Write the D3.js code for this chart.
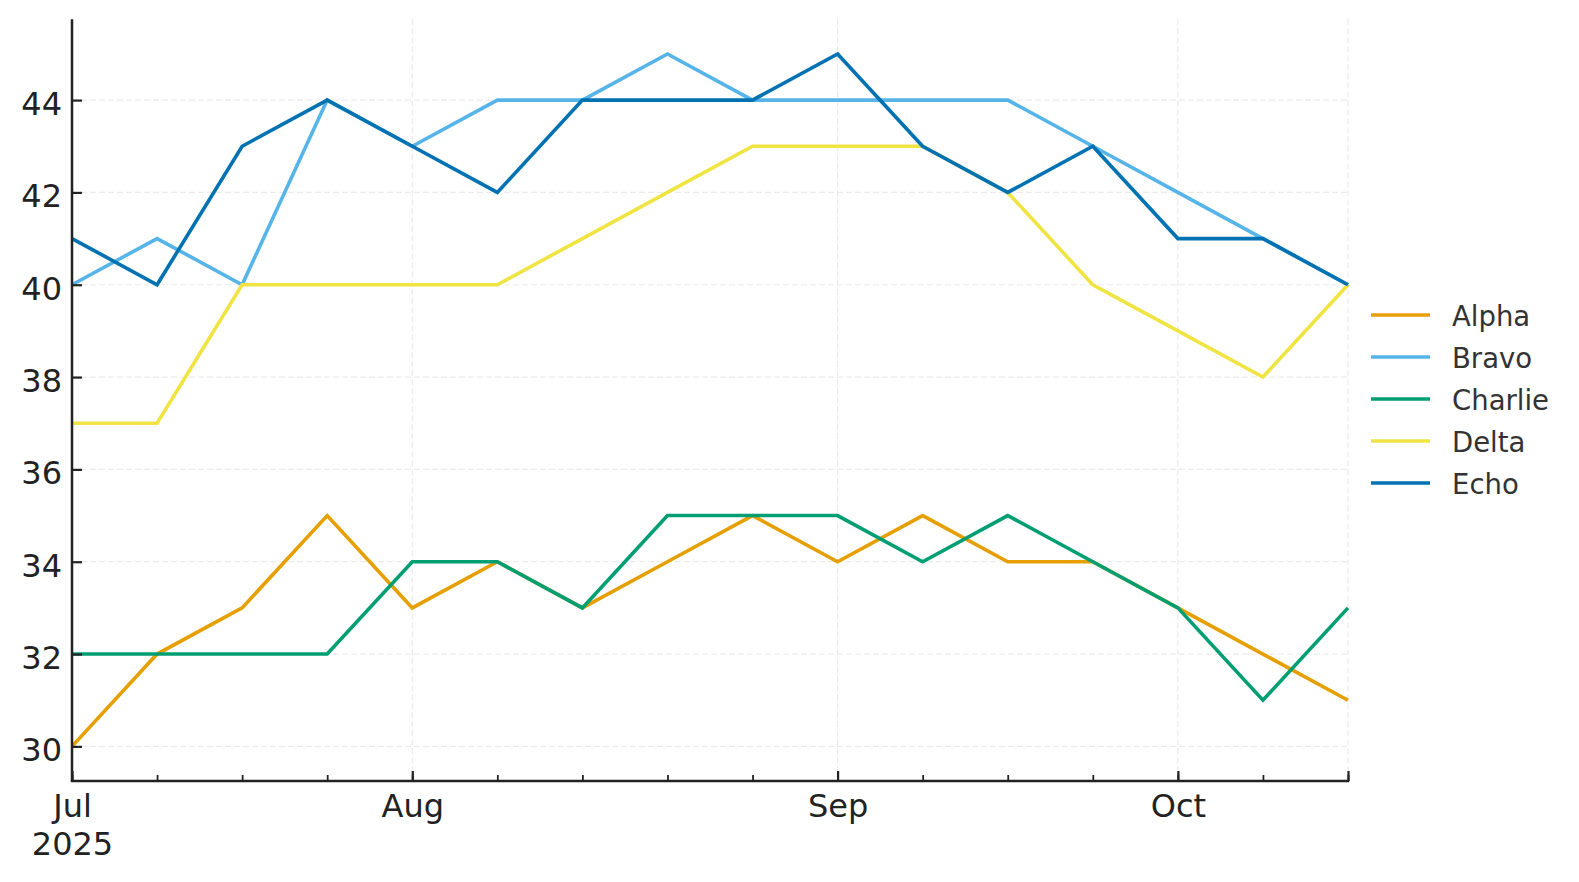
<!DOCTYPE html>
<html>
<head>
<meta charset="utf-8">
<script src="https://cdn.jsdelivr.net/npm/d3@7"></script>
<style>
  html, body { margin: 0; padding: 0; background: #fff; }
  svg { display: block; font-family: "DejaVu Sans", sans-serif; }
</style>
</head>
<body>
<svg id="chart" width="1579" height="882"></svg>
<script>
// ---- data ----
const weeks = ["2025-06-30","2025-07-07","2025-07-14","2025-07-21","2025-07-28","2025-08-04","2025-08-11","2025-08-18","2025-08-25","2025-09-01","2025-09-08","2025-09-15","2025-09-22","2025-09-29","2025-10-06","2025-10-13"];
const alpha   = [30, 32, 33, 35, 33, 34, 33, 34, 35, 34, 35, 34, 34, 33, 32, 31];
const bravo   = [40, 41, 40, 44, 43, 44, 44, 45, 44, 44, 44, 44, 43, 42, 41, 40];
const charlie = [32, 32, 32, 32, 34, 34, 33, 35, 35, 35, 34, 35, 34, 33, 31, 33];
const delta   = [37, 37, 40, 40, 40, 40, 41, 42, 43, 43, 43, 42, 40, 39, 38, 40];
const echo    = [41, 40, 43, 44, 43, 42, 44, 44, 44, 45, 43, 42, 43, 41, 41, 40];
const seriesNames = ["Alpha", "Bravo", "Charlie", "Delta", "Echo"];
const seriesColors = ["#E69F00", "#56B4E9", "#009E73", "#F0E442", "#0072B2"];
const majorWeeks = ["2025-06-30","2025-07-28","2025-09-01","2025-09-29","2025-10-13"];
const majorLabels = [["Jul","2025"],["Aug"],["Sep"],["Oct"],[]];
const yTicks = [30, 32, 34, 36, 38, 40, 42, 44];

const seriesValues = [alpha, bravo, charlie, delta, echo];

// ---- layout ----
const plotL = 72, plotR = 1348, plotT = 19.3, plotB = 781;
const svg = d3.select("#chart");
svg.append("rect").attr("width", 1579).attr("height", 882).attr("fill", "#fff");

const x = d3.scalePoint().domain(weeks).range([plotL, plotR]);
const y = d3.scaleLinear().domain([29.25, 45.75]).range([plotB, plotT]);

// grid
const grid = svg.append("g");
grid.selectAll("line.h").data(yTicks).join("line")
  .attr("x1", plotL).attr("x2", plotR)
  .attr("y1", d => y(d)).attr("y2", d => y(d))
  .attr("stroke", "#ebebeb").attr("stroke-width", 1.2).attr("stroke-dasharray", "6,3");
grid.selectAll("line.v").data(majorWeeks).join("line")
  .attr("x1", d => x(d)).attr("x2", d => x(d))
  .attr("y1", plotT).attr("y2", plotB)
  .attr("stroke", "#ebebeb").attr("stroke-width", 1.2).attr("stroke-dasharray", "6,3");

// lines
const line = d3.line().x((d, i) => x(weeks[i])).y(d => y(d));
seriesValues.forEach((vals, k) => {
  svg.append("path").datum(vals)
    .attr("d", line)
    .attr("fill", "none")
    .attr("stroke", seriesColors[k])
    .attr("stroke-width", 3.6)
    .attr("stroke-linejoin", "miter")
    .attr("stroke-linecap", "butt");
});

// y axis
const yAxis = svg.append("g").attr("transform", `translate(${plotL},0)`)
  .call(d3.axisLeft(y).tickValues(yTicks).tickSizeInner(-10).tickSizeOuter(0).tickPadding(10));
yAxis.select(".domain").attr("stroke", "#222").attr("stroke-width", 2.5)
  .attr("d", `M0,${plotT}V${plotB}`);
yAxis.selectAll(".tick line").attr("stroke", "#222").attr("stroke-width", 2.2);
yAxis.selectAll(".tick text").attr("font-size", 32).attr("fill", "#222")
  .attr("font-family", "DejaVu Sans").attr("dy", "0.45em");

// x axis minor ticks
const xMinor = svg.append("g").attr("transform", `translate(0,${plotB})`)
  .call(d3.axisBottom(x).tickValues(weeks).tickSizeInner(-6).tickSizeOuter(0).tickFormat(""));
xMinor.select(".domain").remove();
xMinor.selectAll(".tick line").attr("stroke", "#222").attr("stroke-width", 1.8);

// x axis major
const xAxis = svg.append("g").attr("transform", `translate(0,${plotB})`)
  .call(d3.axisBottom(x).tickValues(majorWeeks).tickSizeInner(-10).tickSizeOuter(0).tickPadding(12).tickFormat(""));
xAxis.select(".domain").attr("stroke", "#222").attr("stroke-width", 2.5)
  .attr("d", `M${plotL - 1.2},0H${plotR + 1.2}`);
xAxis.selectAll(".tick line").attr("stroke", "#222").attr("stroke-width", 2.2);
xAxis.selectAll(".tick text").each(function(d) {
  const t = d3.select(this).attr("font-size", 32).attr("fill", "#222")
    .attr("font-family", "DejaVu Sans").attr("dy", null).attr("y", 0);
  const lines = majorLabels[majorWeeks.indexOf(d)];
  lines.forEach((s, j) => {
    t.append("tspan").attr("x", 0).attr("y", 36 + j * 38).text(s);
  });
});

// legend
const legend = svg.append("g");
seriesNames.forEach((name, k) => {
  const yy = 315 + k * 42;
  legend.append("line").attr("x1", 1371).attr("x2", 1430).attr("y1", yy).attr("y2", yy)
    .attr("stroke", seriesColors[k]).attr("stroke-width", 3.6);
  legend.append("text").attr("x", 1452).attr("y", yy + 10.5)
    .attr("font-size", 27.5).attr("fill", "#333").text(name);
});
</script>
</body>
</html>
